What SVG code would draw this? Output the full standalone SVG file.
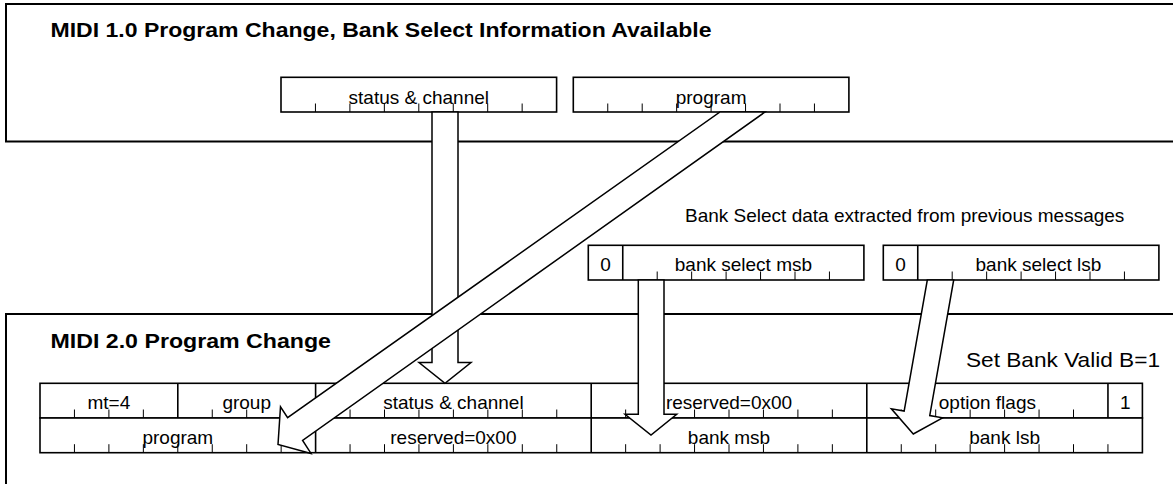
<svg xmlns="http://www.w3.org/2000/svg" width="1173" height="484" viewBox="0 0 1173 484">
<style>
.outer{fill:#fff;stroke:#000;stroke-width:2}
.field{fill:#fff;stroke:#000;stroke-width:1.6}
.tick{stroke:#000;stroke-width:1;fill:none}
.lbl{font-family:"Liberation Sans",Arial,sans-serif;font-size:19px;text-anchor:middle;fill:#000}
.free{font-family:"Liberation Sans",Arial,sans-serif;font-size:19px;fill:#000}
.title{font-family:"Liberation Sans",Arial,sans-serif;font-size:21px;font-weight:bold;fill:#000}
.big{font-family:"Liberation Sans",Arial,sans-serif;font-size:21px;fill:#000}
.arrow{fill:#fff;stroke:#000;stroke-width:1.5;stroke-linejoin:miter}
</style>
<rect width="1173" height="484" fill="#fff"/>

<g id="midi1-frame">
<rect class="outer" x="6" y="4" width="1180" height="137.5"/>
<text class="title" x="50.5" y="36.7" textLength="661" lengthAdjust="spacingAndGlyphs">MIDI 1.0 Program Change, Bank Select Information Available</text>
</g>

<g id="midi1-status">
<rect class="field" x="281" y="77.3" width="275.6" height="34.7"/>
<path class="tick" d="M315.45 103.5V112M349.9 103.5V112M384.35 103.5V112M418.8 103.5V112M453.25 103.5V112M487.7 103.5V112M522.15 103.5V112"/>
<text class="lbl" x="418.8" y="103.5">status &amp; channel</text>
</g>

<g id="midi1-program">
<rect class="field" x="573.3" y="77.3" width="275.6" height="34.7"/>
<path class="tick" d="M607.75 103.5V112M642.2 103.5V112M676.65 103.5V112M711.1 103.5V112M745.55 103.5V112M780 103.5V112M814.45 103.5V112"/>
<text class="lbl" x="711.1" y="103.5">program</text>
</g>

<g id="midi2-frame">
<rect class="outer" x="6" y="314" width="1180" height="200"/>
<text class="title" x="50.5" y="347.7" textLength="280.5" lengthAdjust="spacingAndGlyphs">MIDI 2.0 Program Change</text>
</g>

<g id="bank-caption">
<text class="free" x="685" y="222.3">Bank Select data extracted from previous messages</text>
</g>

<g id="bank-select-msb">
<rect class="field" x="588.3" y="245.3" width="275.6" height="34.7"/>
<path class="field" d="M622.75 245.3V280"/>
<path class="tick" d="M657.2 271.5V280M691.65 271.5V280M726.1 271.5V280M760.55 271.5V280M795 271.5V280M829.45 271.5V280"/>
<text class="lbl" x="605.5" y="271">0</text>
<text class="lbl" x="743.4" y="271">bank select msb</text>
</g>

<g id="bank-select-lsb">
<rect class="field" x="883.3" y="245.3" width="275.6" height="34.7"/>
<path class="field" d="M917.75 245.3V280"/>
<path class="tick" d="M952.2 271.5V280M986.65 271.5V280M1021.1 271.5V280M1055.55 271.5V280M1090 271.5V280M1124.45 271.5V280"/>
<text class="lbl" x="900.5" y="271">0</text>
<text class="lbl" x="1038.4" y="271">bank select lsb</text>
</g>

<g id="set-bank-valid">
<text class="big" x="966" y="366.7" textLength="194" lengthAdjust="spacingAndGlyphs">Set Bank Valid B=1</text>
</g>

<g id="ump-word1">
<rect class="field" x="40" y="383.3" width="1102.4" height="34.7"/>
<path class="field" d="M177.8 383.3V418M315.6 383.3V418M591.2 383.3V418M866.8 383.3V418M1107.95 383.3V418"/>
<path class="tick" d="M74.45 409.5V418M108.9 409.5V418M143.35 409.5V418M212.25 409.5V418M246.7 409.5V418M281.15 409.5V418M350.05 409.5V418M384.5 409.5V418M418.95 409.5V418M453.4 409.5V418M487.85 409.5V418M522.3 409.5V418M556.75 409.5V418M625.65 409.5V418M660.1 409.5V418M694.55 409.5V418M729 409.5V418M763.45 409.5V418M797.9 409.5V418M832.35 409.5V418M901.25 409.5V418M935.7 409.5V418M970.15 409.5V418M1004.6 409.5V418M1039.05 409.5V418M1073.5 409.5V418"/>
<text class="lbl" x="108.9" y="409">mt=4</text>
<text class="lbl" x="246.7" y="409">group</text>
<text class="lbl" x="453.4" y="409">status &amp; channel</text>
<text class="lbl" x="729" y="409">reserved=0x00</text>
<text class="lbl" x="987.4" y="409">option flags</text>
<text class="lbl" x="1125.2" y="409">1</text>
</g>

<g id="ump-word2">
<rect class="field" x="40" y="418" width="1102.4" height="34.7"/>
<path class="field" d="M315.6 418V452.7M591.2 418V452.7M866.8 418V452.7"/>
<path class="tick" d="M74.45 444.2V452.7M108.9 444.2V452.7M143.35 444.2V452.7M177.8 444.2V452.7M212.25 444.2V452.7M246.7 444.2V452.7M281.15 444.2V452.7M350.05 444.2V452.7M384.5 444.2V452.7M418.95 444.2V452.7M453.4 444.2V452.7M487.85 444.2V452.7M522.3 444.2V452.7M556.75 444.2V452.7M625.65 444.2V452.7M660.1 444.2V452.7M694.55 444.2V452.7M729 444.2V452.7M763.45 444.2V452.7M797.9 444.2V452.7M832.35 444.2V452.7M901.25 444.2V452.7M935.7 444.2V452.7M970.15 444.2V452.7M1004.6 444.2V452.7M1039.05 444.2V452.7M1073.5 444.2V452.7M1107.95 444.2V452.7"/>
<text class="lbl" x="177.8" y="444">program</text>
<text class="lbl" x="453.4" y="444">reserved=0x00</text>
<text class="lbl" x="729" y="444">bank msb</text>
<text class="lbl" x="1004.6" y="444">bank lsb</text>
</g>

<g id="connectors">
<polygon id="arrow-status" class="arrow" points="432,112 458,112 458,362.5 471,362.5 445,383.3 419,362.5 432,362.5"/>
<polygon id="arrow-msb" class="arrow" points="638.3,280 664,280 664,414.3 676.7,414.3 651,435 625,414.3 638.3,414.3"/>
<polygon id="arrow-lsb" class="arrow" points="927.3,280 953.7,280 929.75,415.6 942.55,417.8 913.3,434 891.35,408.8 904.15,411.1"/>
<polygon id="arrow-program" class="arrow" points="720,112 765,112 302.6,440.4 311,453.4 278,444.5 280.5,406.8 287.6,417.7"/>
</g>
</svg>
